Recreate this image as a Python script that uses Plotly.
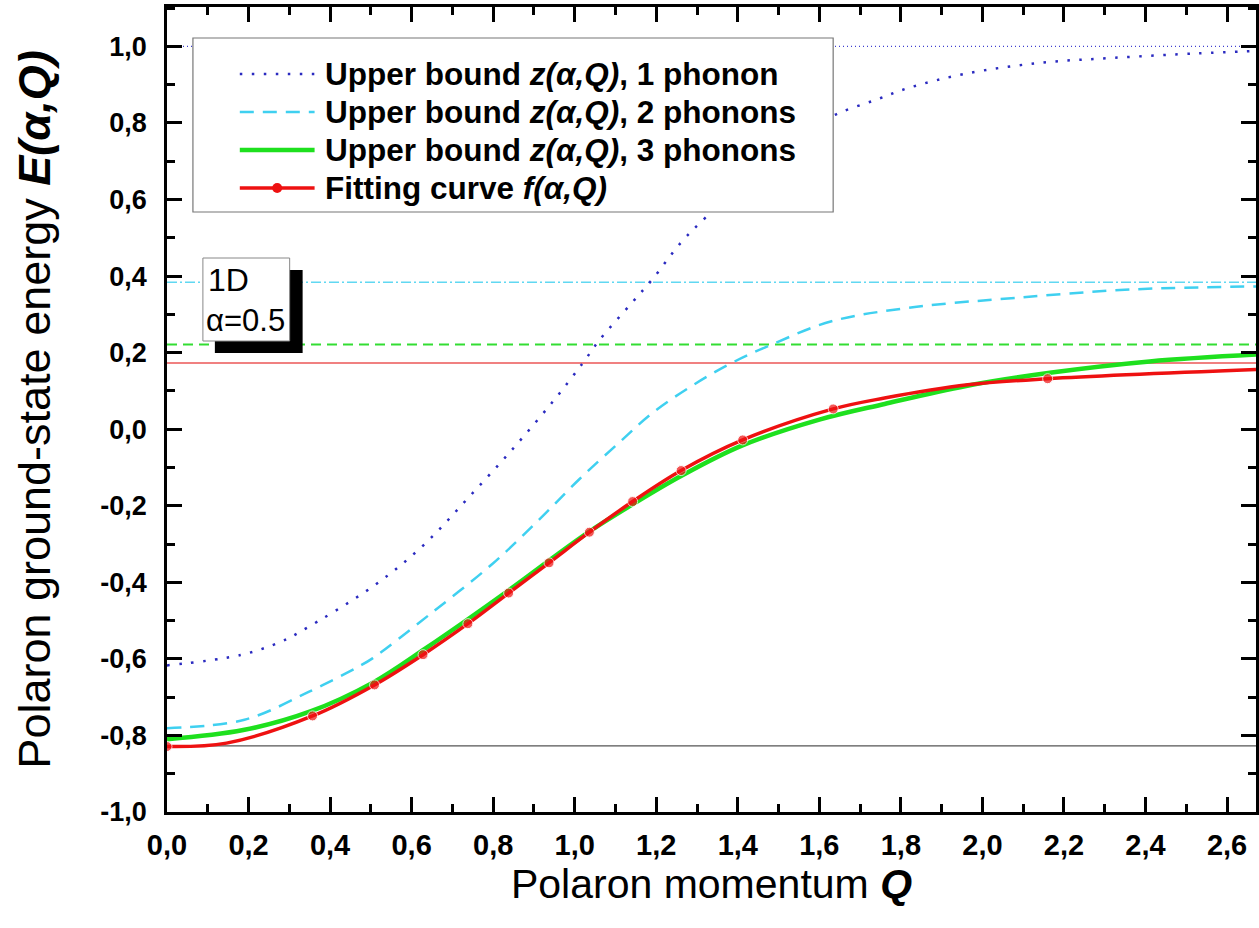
import plotly.graph_objects as go

# ---- data -------------------------------------------------------------
Q_RANGE = [0.0, 2.671]
E_RANGE = [-1.0, 1.103]

# upper bound, 1 phonon
q_1ph = [0.0, 0.18, 0.28, 0.33, 0.51, 0.63, 0.74, 0.85, 0.95, 1.02, 1.06,
         1.14, 1.19, 1.26, 1.32, 1.40, 1.48, 1.56, 1.64, 1.74, 1.82, 1.96,
         2.14, 2.32, 2.53, 2.671]
e_1ph = [-0.617, -0.590, -0.555, -0.527, -0.407, -0.302, -0.178, -0.049, 0.077,
         0.173, 0.232, 0.330, 0.391, 0.487, 0.552, 0.632, 0.705, 0.772, 0.822,
         0.861, 0.892, 0.929, 0.957, 0.970, 0.982, 0.988]

# upper bound, 2 phonons
q_2ph = [0.0, 0.19, 0.35, 0.47, 0.505, 0.643, 0.80, 0.912, 1.01, 1.108, 1.19,
         1.287, 1.385, 1.483, 1.63, 1.834, 2.08, 2.364, 2.671]
e_2ph = [-0.781, -0.759, -0.685, -0.620, -0.598, -0.485, -0.350, -0.237, -0.132,
         -0.036, 0.042, 0.113, 0.173, 0.221, 0.282, 0.319, 0.343, 0.365, 0.373]

# upper bound, 3 phonons
q_3ph = [0.0, 0.187, 0.35, 0.505, 0.635, 0.839, 0.937, 1.035, 1.141, 1.263,
         1.41, 1.60, 1.76, 1.96, 2.17, 2.41, 2.671]
e_3ph = [-0.810, -0.786, -0.738, -0.662, -0.572, -0.420, -0.343, -0.268, -0.197,
         -0.121, -0.043, 0.025, 0.066, 0.113, 0.148, 0.177, 0.195]

# fitting curve f(alpha, Q); fit_pt marks the computed points
q_fit = [0.0, 0.146, 0.357, 0.509, 0.628, 0.738, 0.838, 0.937, 1.036, 1.142,
         1.261, 1.412, 1.634, 1.76, 1.964, 2.160, 2.671]
e_fit = [-0.829, -0.820, -0.749, -0.668, -0.589, -0.508, -0.428, -0.349, -0.269,
         -0.189, -0.108, -0.028, 0.053, 0.0815, 0.116, 0.132, 0.156]
fit_pt = [1, 0, 1, 1, 1, 1, 1, 1, 1, 1, 1, 1, 1, 0, 0, 1, 0]

# asymptotic levels
lvl_1ph = 1.0
lvl_2ph = 0.384
lvl_3ph = 0.221
lvl_fit = 0.173
lvl_ground = -0.827

x_ticks = [0.0, 0.2, 0.4, 0.6, 0.8, 1.0, 1.2, 1.4, 1.6, 1.8, 2.0, 2.2, 2.4, 2.6]
x_labels = ["0,0", "0,2", "0,4", "0,6", "0,8", "1,0", "1,2", "1,4", "1,6",
            "1,8", "2,0", "2,2", "2,4", "2,6"]
y_ticks = [-1.0, -0.8, -0.6, -0.4, -0.2, 0.0, 0.2, 0.4, 0.6, 0.8, 1.0]
y_labels = ["-1,0", "-0,8", "-0,6", "-0,4", "-0,2", "0,0", "0,2", "0,4", "0,6",
            "0,8", "1,0"]

series_names = ["Upper bound <i>z(α,Q)</i>, 1 phonon",
                "Upper bound <i>z(α,Q)</i>, 2 phonons",
                "Upper bound <i>z(α,Q)</i>, 3 phonons",
                "Fitting curve <i>f(α,Q)</i>"]

# ---- styles -----------------------------------------------------------
FONT = "Arial, Liberation Sans, sans-serif"
STYLES = [
    dict(color="#2a2ac0", width=2.5, dash="2.5px,9.5px"),
    dict(color="#3fd0f0", width=2.5, dash="14px,9px"),
    dict(color="#1ee01e", width=4.5, dash="solid"),
    dict(color="#ee1111", width=3.5, dash="solid"),
]
MARK = 10

fig = go.Figure()


# horizontal reference levels
def level(y, color, width, dash):
    fig.add_trace(go.Scatter(x=Q_RANGE, y=[y, y], mode="lines", showlegend=False,
                             hoverinfo="skip",
                             line=dict(color=color, width=width, dash=dash)))


level(lvl_ground, "#555555", 1.2, "solid")
level(lvl_fit, "#f08080", 2, "solid")
level(lvl_3ph, "#33dd33", 2, "10px,6px")
level(lvl_2ph, "#60d8f2", 1.5, "10px,3px,2px,3px")
level(lvl_1ph, "#4040d0", 1.2, "1px,3px")

curves = [(q_1ph, e_1ph), (q_2ph, e_2ph), (q_3ph, e_3ph)]
for (q, e), name, st in zip(curves, series_names, STYLES):
    fig.add_trace(go.Scatter(x=q, y=e, mode="lines", line_shape="spline",
                             name=name, showlegend=False, line=st))
fig.add_trace(go.Scatter(
    x=q_fit, y=e_fit, mode="lines+markers", line_shape="spline",
    name=series_names[3], showlegend=False, line=STYLES[3],
    marker=dict(color=STYLES[3]["color"], size=[MARK * p for p in fit_pt])))

# ---- layout -----------------------------------------------------------
W, H = 1259, 928
ML, MR, MT, MB = 167, 0, 7, 116
PW, PH = W - ML - MR, H - MT - MB


def px_x(px):
    return (px - ML) / PW


def px_y(py):
    return (H - MB - py) / PH


axis_common = dict(
    showline=True, linecolor="black", linewidth=2.5, mirror="allticks",
    ticks="inside", ticklen=15, tickwidth=2.5, tickcolor="black",
    showgrid=False, zeroline=False,
    minor=dict(ticks="inside", ticklen=8, tickwidth=2.5, tickcolor="black",
               tickmode="linear", tick0=0, dtick=0.1, showgrid=False),
)

fig.update_layout(
    width=W, height=H,
    margin=dict(l=ML, r=MR, t=MT, b=MB, pad=0),
    paper_bgcolor="white", plot_bgcolor="white",
    font=dict(family=FONT, color="black"),
    showlegend=False,
    xaxis=dict(range=Q_RANGE, tickmode="array", tickvals=x_ticks, ticktext=x_labels,
               ticklabelstandoff=5,
               tickfont=dict(family=FONT, size=29, color="black", weight="bold"),
               title=dict(text="Polaron momentum <b><i>Q</i></b>",
                          font=dict(family=FONT, size=41), standoff=0),
               **axis_common),
    yaxis=dict(range=E_RANGE, tickmode="array", tickvals=y_ticks, ticktext=y_labels,
               ticklabelstandoff=12,
               tickfont=dict(family=FONT, size=27, color="black", weight="bold"),
               title=dict(text="Polaron ground-state energy <b><i>E(α,Q)</i></b>",
                          font=dict(family=FONT, size=45), standoff=36),
               **axis_common),
)

# legend frame, drawn over the curves
fig.add_shape(type="rect", xref="paper", yref="paper", layer="above",
              x0=px_x(193), x1=px_x(835), y0=px_y(212), y1=px_y(38),
              fillcolor="white", line=dict(color="#777777", width=1.2))

# legend entries: sample line (plus marker for the fit) and label
LEG_Y = [74, 112, 150, 188]
for name, st, ly in zip(series_names, STYLES, LEG_Y):
    fig.add_shape(type="line", xref="paper", yref="paper", layer="above",
                  x0=px_x(240), x1=px_x(315), y0=px_y(ly), y1=px_y(ly),
                  line=st)
    fig.add_annotation(xref="paper", yref="paper", x=px_x(323), y=px_y(ly),
                       xanchor="left", yanchor="middle", showarrow=False,
                       text=f"<b>{name}</b>",
                       font=dict(family=FONT, size=31.5, color="black"))
fig.add_shape(type="circle", xref="paper", yref="paper", layer="above",
              x0=px_x(277.5 - MARK / 2), x1=px_x(277.5 + MARK / 2),
              y0=px_y(LEG_Y[3] + MARK / 2), y1=px_y(LEG_Y[3] - MARK / 2),
              fillcolor=STYLES[3]["color"], line=dict(width=0))

# "1D, alpha=0.5" label box with a drop shadow
fig.add_shape(type="rect", xref="paper", yref="paper", layer="above",
              x0=px_x(215), x1=px_x(303), y0=px_y(353), y1=px_y(270),
              fillcolor="black", line=dict(width=0))
fig.add_shape(type="rect", xref="paper", yref="paper", layer="above",
              x0=px_x(203), x1=px_x(290), y0=px_y(341), y1=px_y(258),
              fillcolor="white", line=dict(color="#888888", width=1))
fig.add_annotation(xref="paper", yref="paper", x=px_x(206), y=px_y(280),
                   xanchor="left", yanchor="middle", showarrow=False,
                   text="1D", font=dict(family=FONT, size=32, color="black"))
fig.add_annotation(xref="paper", yref="paper", x=px_x(204), y=px_y(320),
                   xanchor="left", yanchor="middle", showarrow=False,
                   text="α=0.5", font=dict(family=FONT, size=31, color="black"))

fig.write_html("out.html")
